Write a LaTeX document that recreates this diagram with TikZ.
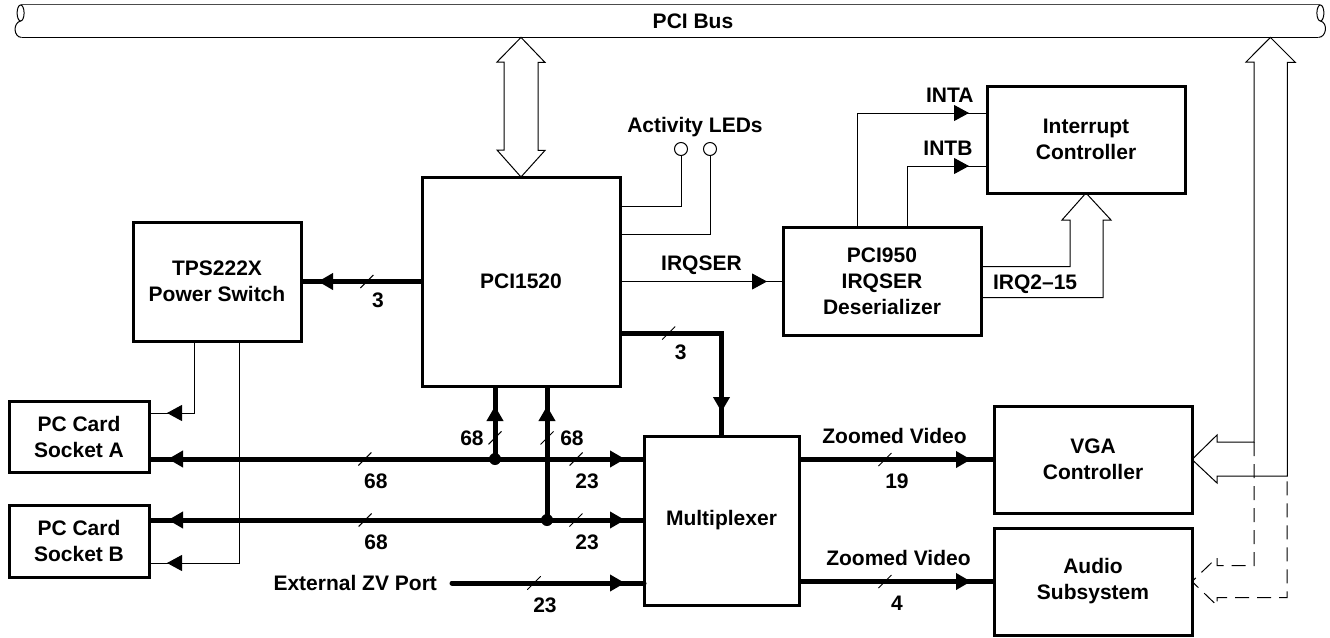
\documentclass[tikz,border=0pt]{standalone}
\usepackage{fontspec}
\setmainfont{Liberation Sans}
\usetikzlibrary{positioning, calc, arrows.meta, decorations.markings}

\begin{document}
\begin{tikzpicture}[x=0.5pt, y=-0.5pt, font=\bfseries\fontsize{10.5}{13}\selectfont,
        box/.style={draw, line width=1.5pt, align=center, outer sep=0pt,
            minimum width=99pt, minimum height=53.5pt},
        wire/.style={line width=.5pt},
        bus/.style={line width=2.5pt},
        hollow/.style={line width=.5pt, line join=miter},
        arr/.style={postaction={decorate, decoration={markings,
            mark=at position -#1 with {\arrow{Triangle[length=7.5pt, width=8pt]}}}}},
        led/.style={circle, draw, line width=.5pt, minimum size=6.5pt, inner sep=0pt},
        pics/cut/.style 2 args={code={
            \draw[line width=.5pt] (-3.25pt,-3.25pt) -- (3.25pt,3.25pt);
            \node at (#1) {#2};}}]

        \useasboundingbox (0,0) rectangle (1330,638);

        \node[minimum width=652pt, minimum height=16pt,
            label={[xshift=11.5pt]center:PCI Bus}]          (pcibus) at (670,21) {};
        \node[box, minimum height=104.5pt]                  (pci)    at (521,281.5) {PCI1520};
        \node[box, minimum width=84pt, minimum height=59.5pt,
            left=60.5pt of pci]                             (tps)    {TPS222X\\Power Switch};
        \node[box, minimum height=54pt, right=81.5pt of pci] (deser) {PCI950\\IRQSER\\Deserializer};
        \node[box]                                          (intc)   at (1086,139.5) {Interrupt\\Controller};
        \node[box, minimum width=70pt, minimum height=35.5pt] (sockA) at (79,436.5) {PC Card\\Socket A};
        \node[box, minimum width=70pt, minimum height=36pt,
            below=16.5pt of sockA]                          (sockB)  {PC Card\\Socket B};
        \node[box, minimum width=77.5pt, minimum height=84.5pt] (mux) at (721.5,520.5) {Multiplexer};
        \node[box]                                          (vga)    at (1093,459.5) {VGA\\Controller};
        \node[box, below=7.5pt of vga]                      (audio)  {Audio\\Subsystem};
        \node                                               (ledtxt) at (695,127) {Activity LEDs};
        \node[led]                                          (led1)   at (681,149) {};
        \node[led]                                          (led2)   at (710,149) {};
        \node[anchor=east]                                  (extzv)  at (444,583) {External ZV Port};
        \node[anchor=west]                                  (irqtxt) at ($(deser.east)+(5,3)$) {IRQ2--15};

        \coordinate (jA) at (495,459);
        \coordinate (jB) at (547,520);
        \coordinate (busR) at ($(pcibus.south east)+(-52,0)$);

        % PCI bus
        \draw[line width=.8pt, black!70] ($(pcibus.north west)+(3,0)$) -- ($(pcibus.north east)+(-2,0)$);
        \draw[line width=.5pt] ($(pcibus.south west)+(4,0)$) -- ($(pcibus.south east)+(-4,0)$);
        \draw[line width=.5pt] ($(pcibus.west)+(3,-8)$) ellipse [x radius=3.5, y radius=8];
        \draw[line width=.5pt] ($(pcibus.west)+(3,0)$) .. controls +(-8,2) and +(-8,0) .. ($(pcibus.south west)+(4,0)$);
        \draw[line width=.5pt] ($(pcibus.east)+(-2,-8)$) ellipse [x radius=3.5, y radius=8];
        \draw[line width=.5pt] ($(pcibus.east)+(-2,0)$) .. controls +(8,2) and +(8,0) .. ($(pcibus.south east)+(-4,0)$);

        \draw[hollow] (pcibus.south -| pci.north) -- ++(24,25) -- ++(-7,0) -- ++(0,88) -- ++(7,0)
            -- (pci.north) -- ++(-24,-27) -- ++(7,0) -- ++(0,-88) -- ++(-7,0) -- cycle;
        \draw[hollow] (busR) -- ++(25,25) -- ++(-8,0) |- ($(vga.east)+(25,16.5)$) -- ++(0,7)
            -- (vga.east) -- ++(25,-24.5) -- ++(0,7) -- ++(37,0) -- ++(0,-380) -- ++(-8,0) -- cycle;
        \draw[hollow, dash pattern=on 7pt off 4pt] ($(vga.east)+(62,-17.5)$) |- ($(audio.east)+(25,-16)$)
            -- ++(0,-8) -- (audio.east) -- ++(25,24) -- ++(0,-8) -| ($(vga.east)+(95,16.5)$);
        \draw[hollow] ($(deser.east)+(0,-15)$) -| ($(intc.south)+(-16,27)$) -- ++(-8,0) -- (intc.south)
            -- ++(25,27) -- ++(-8,0) |- ($(deser.east)+(0,16)$);

        \draw[wire] (led1.south) |- ($(pci.north east)+(0,29)$);
        \draw[wire] (led2.south) |- ($(pci.north east)+(0,57)$);
        \draw[wire, arr=8pt] (pci.east |- deser.west) -- node[above=0pt] (irqser) {IRQSER} (deser.west);
        \draw[wire, arr=9pt] ($(deser.north west)+(74,0)$) |- node[pos=.857, above=1.5pt] (inta) {INTA}
            ($(intc.north west)+(0,27)$);
        \draw[wire, arr=9pt] ($(deser.north west)+(124,0)$) |- node[pos=.756, above=1.5pt] (intb) {INTB}
            ($(intc.north west)+(0,80)$);
        \draw[wire, arr=9pt] ($(tps.south)+(-23,0)$) |- ($(sockA.north east)+(0,12)$);
        \draw[wire, arr=9pt] ($(tps.south)+(22,0)$) |- ($(sockB.south east)+(0,-14)$);

        \draw[bus, arr=8.5pt] (pci.west |- tps.east) -- (tps.east) pic[pos=.455]{cut={5.5pt,-9.5pt}{3}};
        \draw[bus, arr=12pt] ($(pci.south east)+(0,-53)$) -| (mux.north) pic[pos=.24]{cut={6pt,-9.5pt}{3}};

        \draw[bus, arr=9.5pt] (jA) -- (jA -| sockA.east) pic[pos=.376]{cut={5.5pt,-11pt}{68}};
        \draw[bus, arr=9.5pt] (jA) -- (jA -| mux.west) pic[pos=.544]{cut={5.5pt,-11pt}{23}};
        \draw[bus, arr=10pt] (jA) -- (jA |- pci.south) pic[pos=.29]{cut={-11.5pt,0pt}{68}};
        \draw[bus, arr=9.5pt] (jB) -- (jB -| sockB.east) pic[pos=.457]{cut={5.5pt,-11pt}{68}};
        \draw[bus, arr=9.5pt] (jB) -- (jB -| mux.west) pic[pos=.299]{cut={5.5pt,-11pt}{23}};
        \draw[bus, arr=10pt] (jB) -- (jB |- pci.south) pic[pos=.612]{cut={12.5pt,0pt}{68}};
        \fill (jA) circle (3pt);
        \fill (jB) circle (3pt);

        \draw[bus, line cap=round, arr=9.5pt] ($(extzv.east)+(8,0)$) -- (extzv.east -| mux.west)
            pic[pos=.427]{cut={5.5pt,-11pt}{23}};
        \draw[bus, arr=11.5pt] (mux.east |- vga.west) -- node[pos=.49, above=3.5pt] (zv1) {Zoomed Video}
            (vga.west) pic[pos=.441]{cut={6pt,-11pt}{19}};
        \draw[bus, arr=11.5pt] (mux.east |- audio.west) -- node[pos=.51, above=3.5pt] (zv2) {Zoomed Video}
            (audio.west) pic[pos=.441]{cut={6pt,-11pt}{4}};

\end{tikzpicture}
\end{document}
